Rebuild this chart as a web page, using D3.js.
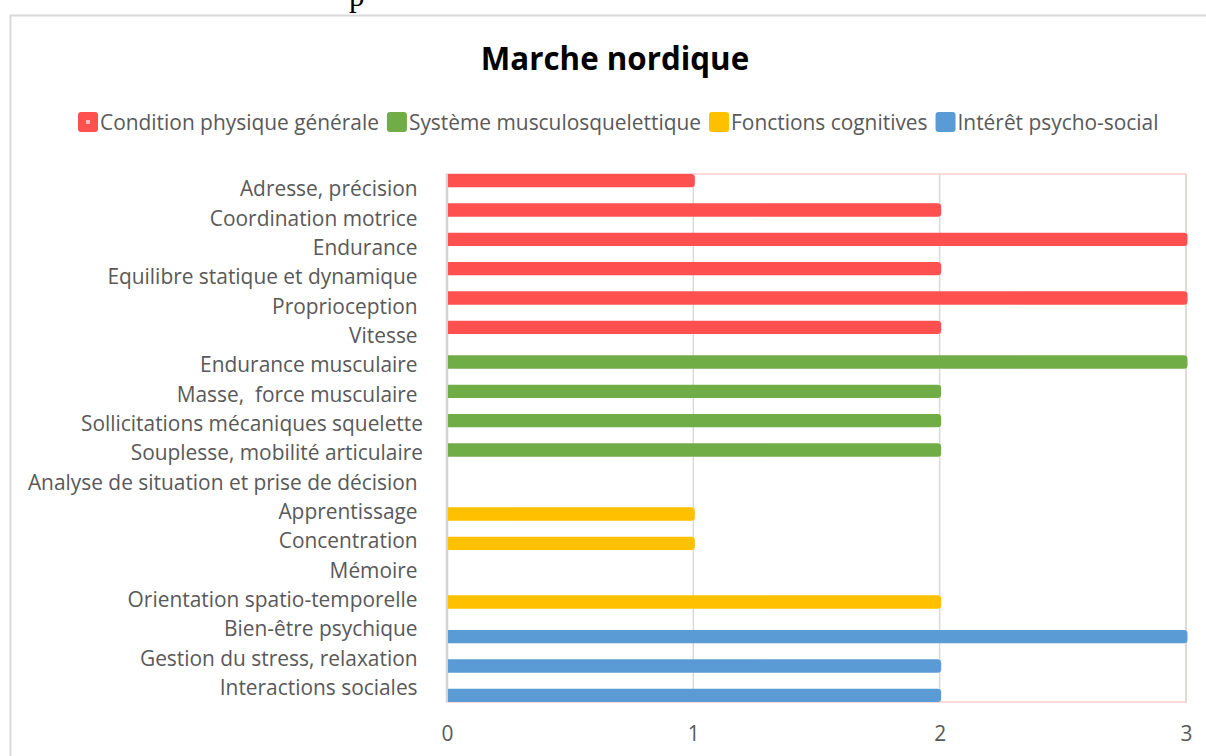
<!DOCTYPE html>
<html>
<head>
<meta charset="utf-8">
<script src="https://cdn.jsdelivr.net/npm/d3@7"></script>
<style>
  html, body { margin: 0; padding: 0; background: #fff; }
  svg { display: block; }
  text { white-space: pre; }
</style>
</head>
<body>
<svg id="chart" width="1206" height="756"></svg>
<script>
// Categories, top to bottom
const categories = [
  "Adresse, précision ",
  "Coordination motrice ",
  "Endurance ",
  "Equilibre statique et dynamique ",
  "Proprioception ",
  "Vitesse ",
  "Endurance musculaire ",
  "Masse,  force musculaire ",
  "Sollicitations mécaniques squelette",
  "Souplesse, mobilité articulaire",
  "Analyse de situation et prise de décision ",
  "Apprentissage ",
  "Concentration ",
  "Mémoire ",
  "Orientation spatio-temporelle ",
  "Bien-être psychique ",
  "Gestion du stress, relaxation ",
  "Interactions sociales "
];

// One value list per series (null = no bar for that category)
const conditionPhysique = [1, 2, 3, 2, 3, 2, null, null, null, null, null, null, null, null, null, null, null, null];
const systemeMusculo    = [null, null, null, null, null, null, 3, 2, 2, 2, null, null, null, null, null, null, null, null];
const fonctionsCognitives = [null, null, null, null, null, null, null, null, null, null, 0, 1, 1, 0, 2, null, null, null];
const interetPsychoSocial = [null, null, null, null, null, null, null, null, null, null, null, null, null, null, null, 3, 2, 2];

const seriesNames = ["Condition physique générale", "Système musculosquelettique", "Fonctions cognitives", "Intérêt psycho-social"];
const seriesValues = [conditionPhysique, systemeMusculo, fonctionsCognitives, interetPsychoSocial];
const seriesColors = ["#FF5050", "#70AD47", "#FFC000", "#5B9BD5"];

const xTicks = [0, 1, 2, 3];
const title = "Marche nordique";

const FONT = "'Open Sans', 'Noto Sans', sans-serif";
const LABEL_SIZE = 20.9;
const svg = d3.select("#chart");

// page background and outer chart frame
svg.append("rect").attr("width", 1206).attr("height", 756).attr("fill", "#fff");
svg.append("text")
  .attr("x", 349).attr("y", 6)
  .attr("font-family", "'Liberation Serif', serif")
  .attr("font-size", 31)
  .attr("fill", "#000")
  .text("p");
svg.append("path")
  .attr("d", "M10.5,760 V15.5 H1210")
  .attr("fill", "none")
  .attr("stroke", "#D9D9D9")
  .attr("stroke-width", 2);

// title
svg.append("text")
  .attr("x", 615).attr("y", 70)
  .attr("text-anchor", "middle")
  .attr("font-family", FONT)
  .attr("font-weight", "bold")
  .attr("font-size", 31.3)
  .attr("fill", "#000")
  .text(title);

// scales
const plot = { left: 447, right: 1186, top: 174, bottom: 702 };
const x = d3.scaleLinear().domain([0, 3]).range([plot.left, plot.right]);
const y = d3.scaleBand().domain(categories).range([plot.top, plot.bottom]).padding(0);

// plot area border
svg.append("rect")
  .attr("x", plot.left).attr("y", plot.top)
  .attr("width", plot.right - plot.left).attr("height", plot.bottom - plot.top)
  .attr("fill", "none")
  .attr("stroke", "#FFDADA")
  .attr("stroke-width", 2);

// vertical gridlines
svg.append("g")
  .selectAll("line")
  .data(xTicks)
  .join("line")
  .attr("x1", d => x(d)).attr("x2", d => x(d))
  .attr("y1", plot.top).attr("y2", plot.bottom)
  .attr("stroke", d => d === 0 ? "#D4D4D4" : "#D9D9D9")
  .attr("stroke-width", d => d === 0 ? 2.5 : 1.5);

// bars: overlapping clusters, rounded at the value end
const bw = y.bandwidth();
const barH = bw * 5 / 11;
const step = (bw - barH) / (seriesNames.length - 1);

function barPath(x0, x1, y0, h, r) {
  const w = x1 - x0;
  r = Math.min(r, w / 2, h / 2);
  return `M${x0},${y0} H${x1 - r} Q${x1},${y0} ${x1},${y0 + r} V${y0 + h - r} Q${x1},${y0 + h} ${x1 - r},${y0 + h} H${x0} Z`;
}

const barData = [];
seriesValues.forEach((vals, s) => {
  vals.forEach((v, i) => {
    if (v != null && v > 0) barData.push({ cat: categories[i], v, s });
  });
});

svg.append("g")
  .selectAll("path")
  .data(barData)
  .join("path")
  .attr("d", d => barPath(x(0) + 1, x(d.v) + 1.5, y(d.cat) + d.s * step, barH, 3.5))
  .attr("fill", d => seriesColors[d.s]);

// category axis
const yAxis = svg.append("g")
  .attr("transform", `translate(${plot.left},1)`)
  .call(d3.axisLeft(y).tickSize(0).tickPadding(24));
yAxis.select(".domain").remove();
yAxis.selectAll("text")
  .attr("font-family", FONT)
  .attr("font-size", LABEL_SIZE)
  .attr("fill", "#595959");

// value axis
const xAxis = svg.append("g")
  .attr("transform", `translate(0,${plot.bottom})`)
  .call(d3.axisBottom(x).tickValues(xTicks).tickFormat(d3.format("d")).tickSize(0).tickPadding(24));
xAxis.select(".domain").remove();
xAxis.selectAll("text")
  .attr("font-family", FONT)
  .attr("font-size", LABEL_SIZE)
  .attr("fill", "#595959");

// legend
const legend = svg.append("g").attr("transform", "translate(0,122)");
let lx = 78;
seriesNames.forEach((name, s) => {
  const g = legend.append("g");
  g.append("rect")
    .attr("x", lx).attr("y", -10)
    .attr("width", 20).attr("height", 20)
    .attr("rx", 3)
    .attr("fill", seriesColors[s]);
  if (s === 0) {
    g.append("rect")
      .attr("x", lx + 8).attr("y", -2)
      .attr("width", 4).attr("height", 4)
      .attr("fill", "#fff").attr("opacity", 0.6);
  }
  const t = g.append("text")
    .attr("x", lx + 22).attr("y", 1)
    .attr("dy", "0.35em")
    .attr("font-family", FONT)
    .attr("font-size", LABEL_SIZE)
    .attr("fill", "#595959")
    .text(name);
  lx += 22 + t.node().getComputedTextLength() + 8;
});
</script>
</body>
</html>
